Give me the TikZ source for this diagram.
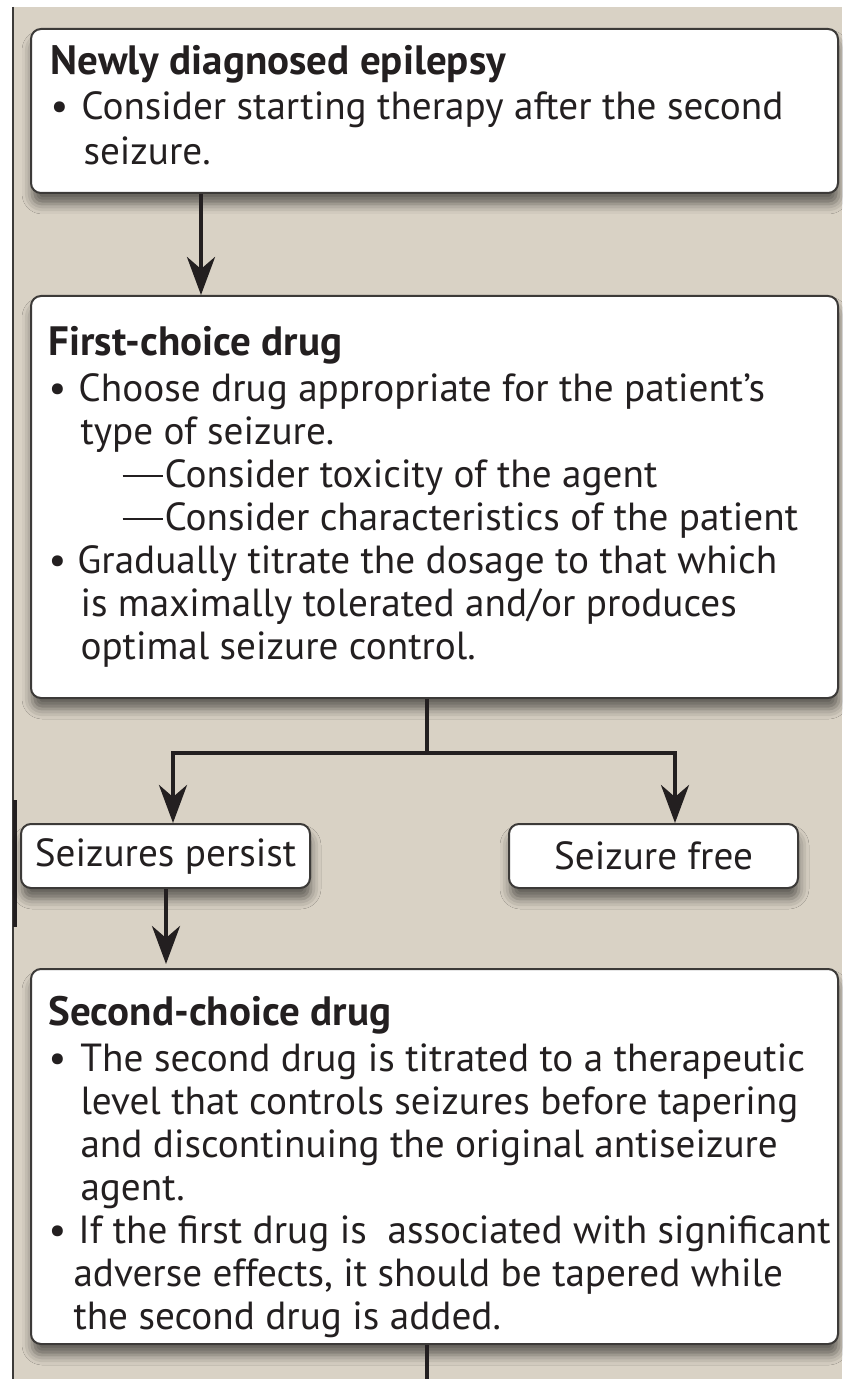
\documentclass[tikz,border=0pt]{standalone}
\usepackage{fontspec}
\setmainfont{PT Sans}
\usetikzlibrary{arrows.meta,shadows.blur}
\definecolor{cPage}{HTML}{D9D2C5}
\definecolor{cInk}{HTML}{231F20}
\definecolor{cEdge}{HTML}{3C3A38}
\newcommand\boxhead[1]{{\fontsize{20.5}{21.5}\selectfont\bfseries #1}}
\newcommand\subdash{\rule[5.3pt]{20pt}{0.9pt}\hspace{1pt}}
\tikzset{
  every picture/.style={line width=0.5pt},
  panel/.style={draw=cEdge, fill=white, rounded corners=5pt, line width=1pt,
                anchor=north west, inner sep=0pt,
                blur shadow={shadow xshift=0.5pt, shadow yshift=-5.5pt,
                             shadow blur radius=5pt, shadow opacity=55}},
  tag/.style={panel, font=\fontsize{19.6}{22}\selectfont, text=cInk},
  txt/.style={anchor=north west, inner sep=0pt, align=left, text=cInk,
              font=\fontsize{19.6}{21.5}\selectfont},
  flow/.style={-{Stealth[length=19pt,width=14pt,inset=6pt]}, line width=2.2pt, draw=cInk},
  link/.style={line width=2.2pt, draw=cInk},
}

\begin{document}
\begin{tikzpicture}[x=0.5pt,y=-0.5pt]
\useasboundingbox (0,0) rectangle (842,1379);

% ================================================== page
\fill[white] (0,0) rectangle (842,1379);
\fill[cPage] (13,7) rectangle (842,1379);
\draw[cEdge, line width=1pt] (13,7) -- (13,1379);
\draw[cInk, line width=2pt] (15,800) -- (15,927);

% ================================================== boxes
\node[panel, minimum width=403.5pt, minimum height=82pt]    (nde)    at (30,28)  {};
\node[panel, minimum width=403.5pt, minimum height=201pt]   (first)  at (30,295) {};
\node[tag, minimum width=144.5pt, minimum height=32pt]      (persist) at (20,823) {Seizures persist};
\node[tag, minimum width=144.5pt, minimum height=32pt]      (free)   at (508,823) {Seizure free};
\node[panel, minimum width=403.5pt, minimum height=187.5pt] (second) at (30,968) {};

% ================================================== box texts
\node[txt, font=\fontsize{19.6}{22.5}\selectfont] (ndeText) at (50,45) {%
  \boxhead{Newly diagnosed epilepsy}\\
  \makebox[15.5pt][l]{\textbullet}Consider starting therapy after the second\\
  \hspace*{16.5pt}seizure.};

\node[txt] (firstText) at (48,326) {%
  \boxhead{First-choice drug}\\[1.5pt]
  \makebox[15pt][l]{\textbullet}Choose drug appropriate for the patient's\\
  \hspace*{16pt}type of seizure.\\
  \hspace*{37pt}\subdash Consider toxicity of the agent\\
  \hspace*{37pt}\subdash Consider characteristics of the patient\\
  \makebox[14.5pt][l]{\textbullet}Gradually titrate the dosage to that which\\
  \hspace*{16pt}is maximally tolerated and/or produces\\
  \hspace*{16pt}optimal seizure control.};

\node[txt] (secondText) at (48,996) {%
  \boxhead{Second-choice drug}\\[1.5pt]
  \makebox[16pt][l]{\textbullet}The second drug is titrated to a therapeutic\\
  \hspace*{16pt}level that controls seizures before tapering\\
  \hspace*{16pt}and discontinuing the original antiseizure\\
  \hspace*{16pt}agent.\\
  \makebox[15pt][l]{\textbullet}If the first drug is\ \ associated with significant\\
  \hspace*{12.5pt}adverse effects, it should be tapered while\\
  \hspace*{12.5pt}the second drug is added.};

% ================================================== connectors
\coordinate (a1)   at (201,0);
\coordinate (fork) at (427,753);
\coordinate (pl)   at (173,0);
\coordinate (pr)   at (675,0);
\coordinate (pd)   at (166,0);
\coordinate (tail) at (427,1379);

\draw[flow] (nde.south -| a1) -- (first.north -| a1);
\draw[link] (first.south -| fork) -- (fork);
\draw[flow] (fork) -| (persist.north -| pl);
\draw[flow] (fork) -| (free.north -| pr);
\draw[flow, shorten >=2pt] (persist.south -| pd) -- (second.north -| pd);
\draw[link, line width=1.8pt] (second.south -| tail) -- (tail);

\end{tikzpicture}
\end{document}
